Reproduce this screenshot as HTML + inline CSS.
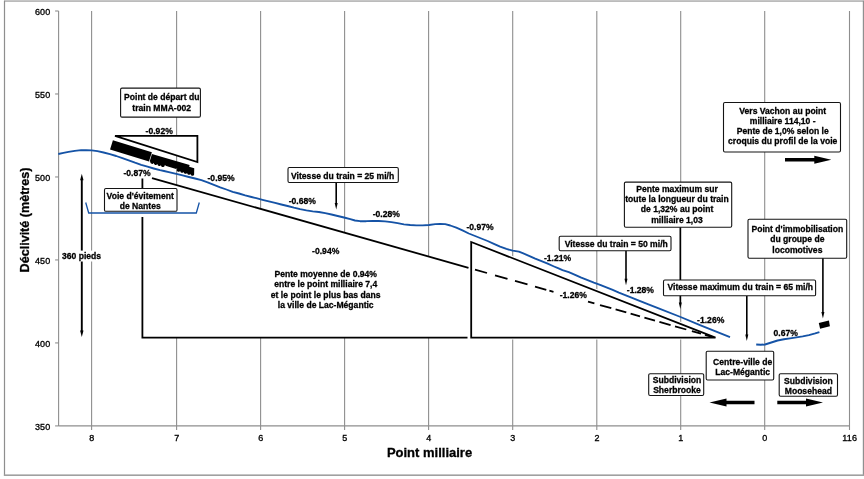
<!DOCTYPE html>
<html lang="fr"><head><meta charset="utf-8"><title>Déclivité - Point milliaire</title>
<style>html,body{margin:0;padding:0;background:#fff}body{width:864px;height:479px;overflow:hidden}svg{display:block}text{font-family:"Liberation Sans",sans-serif;font-weight:bold;fill:#000}.t{font-size:9.5px;text-anchor:middle;stroke:#000;stroke-width:0.3px}.k{font-size:9px;letter-spacing:0.15px;font-weight:normal;stroke:#000;stroke-width:0.32px;fill:#000}.ax{font-size:13px;text-anchor:middle;stroke:#000;stroke-width:0.3px}.b{fill:#fff;stroke:#141414;stroke-width:1.1}.g{stroke:#8e8e8e;stroke-width:1.1;fill:none}.n{stroke:#000;stroke-width:1.8;fill:none}.bl{stroke:#1553a6;fill:none}</style></head><body>
<svg width="864" height="479" viewBox="0 0 864 479">
<rect width="864" height="479" fill="#fff"/>
<rect x="4" y="0" width="860" height="1.2" fill="#c6c6c6"/><rect x="4" y="1.1" width="860" height="0.7" fill="#a2a2a2"/><rect x="3.9" y="0.8" width="1.2" height="475" fill="#8e8e8e"/><rect x="862.8" y="0.8" width="1.2" height="475" fill="#909090"/><rect x="3.9" y="474.4" width="860.1" height="1.6" fill="#a0a0a0"/>
<line class="g" x1="91.60" y1="11.0" x2="91.60" y2="429.9"/>
<line class="g" x1="176.60" y1="11.0" x2="176.60" y2="429.9"/>
<line class="g" x1="260.60" y1="11.0" x2="260.60" y2="429.9"/>
<line class="g" x1="344.60" y1="11.0" x2="344.60" y2="429.9"/>
<line class="g" x1="428.60" y1="11.0" x2="428.60" y2="429.9"/>
<line class="g" x1="512.70" y1="11.0" x2="512.70" y2="429.9"/>
<line class="g" x1="596.80" y1="11.0" x2="596.80" y2="429.9"/>
<line class="g" x1="680.70" y1="11.0" x2="680.70" y2="429.9"/>
<line class="g" x1="764.70" y1="11.0" x2="764.70" y2="429.9"/>
<line class="g" x1="849.50" y1="11.0" x2="849.50" y2="429.9"/>
<line class="g" x1="58.6" y1="11.0" x2="58.6" y2="425.9"/>
<line class="g" x1="58.6" y1="425.9" x2="849.50" y2="425.9"/>
<line class="g" x1="55.1" y1="11.00" x2="58.6" y2="11.00"/>
<line class="g" x1="55.1" y1="93.98" x2="58.6" y2="93.98"/>
<line class="g" x1="55.1" y1="176.96" x2="58.6" y2="176.96"/>
<line class="g" x1="55.1" y1="259.94" x2="58.6" y2="259.94"/>
<line class="g" x1="55.1" y1="342.92" x2="58.6" y2="342.92"/>
<line class="g" x1="55.1" y1="425.90" x2="58.6" y2="425.90"/>
<text class="k" x="50.4" y="14.70" text-anchor="end">600</text>
<text class="k" x="50.4" y="97.68" text-anchor="end">550</text>
<text class="k" x="50.4" y="180.66" text-anchor="end">500</text>
<text class="k" x="50.4" y="263.64" text-anchor="end">450</text>
<text class="k" x="50.4" y="346.62" text-anchor="end">400</text>
<text class="k" x="50.4" y="429.60" text-anchor="end">350</text>
<text class="k" x="91.80" y="441.3" text-anchor="middle">8</text>
<text class="k" x="176.80" y="441.3" text-anchor="middle">7</text>
<text class="k" x="260.80" y="441.3" text-anchor="middle">6</text>
<text class="k" x="344.80" y="441.3" text-anchor="middle">5</text>
<text class="k" x="428.80" y="441.3" text-anchor="middle">4</text>
<text class="k" x="512.90" y="441.3" text-anchor="middle">3</text>
<text class="k" x="597.00" y="441.3" text-anchor="middle">2</text>
<text class="k" x="680.90" y="441.3" text-anchor="middle">1</text>
<text class="k" x="764.90" y="441.3" text-anchor="middle">0</text>
<text class="k" x="849.70" y="441.3" text-anchor="middle">116</text>
<text class="ax" x="429.5" y="456.8">Point milliaire</text>
<text class="ax" transform="translate(28.7 220) rotate(-90) scale(0.968 1)">Déclivité (mètres)</text>
<polygon points="142.4,175.37 468.5,267.82 468.5,337.6 142.4,337.6" fill="#fff"/>
<path class="n" d="M152,178.09 L468.5,267.82"/>
<path class="n" d="M142.4,178.5 V188.7 M142.4,217 V337.6 H467.5"/>
<polygon points="471.2,242 715.5,337.6 471.2,337.6" fill="#fff" stroke="#fff" stroke-width="4"/>
<polygon class="n" points="471.2,242 715.5,337.6 471.2,337.6" stroke-linejoin="miter"/>
<path class="n" d="M475,269.60 L487,273.00 M495,275.27 L507.5,278.81 M515,280.94 L527.5,284.48 M535,286.61 L546.3,289.81 M549.4,290.69 L553.5,291.85 M588,301.64 L594.4,303.45 M600,305.04 L611.3,308.24 M615.6,309.46 L626.3,312.49 M630.6,313.71 L640,316.38 M644.4,317.62 L655,320.63 M659.4,321.88 L670.6,325.05 M675,326.30 L686.3,329.50 M691.9,331.09 L701,333.67 M705,334.81 L712,336.79"/>
<path class="bl" stroke-width="1.85" stroke-linejoin="round" d="M58.3,154.0 L63.5,152.9 L68.5,151.9 L74.8,150.8 L81.1,150.2 L86.1,150.2 L91.7,150.4 L97.4,151.2 L103.6,152.5 L109.9,154.2 L116.2,156.0 L122.4,158.2 L128.7,160.4 L135.0,162.7 L141.2,164.8 L147.5,166.7 L153.7,168.5 L160.0,170.2 L164.0,171.0 L168.8,172.2 L176.3,173.9 L182.6,175.4 L188.8,177.0 L195.1,178.5 L201.4,180.2 L207.6,182.3 L213.9,184.8 L220.2,187.3 L226.4,189.5 L232.7,191.8 L239.0,193.5 L245.2,195.4 L251.5,197.0 L256.3,198.2 L262.5,199.8 L268.8,201.4 L275.1,202.9 L281.3,204.5 L287.6,206.0 L293.9,207.7 L300.1,209.2 L306.4,210.4 L312.7,211.3 L318.9,212.0 L325.2,213.2 L331.5,214.5 L337.7,216.0 L344.0,217.5 L350.3,219.2 L355.0,220.5 L360.0,221.2 L366.3,221.2 L372.6,221.0 L378.8,221.0 L385.1,221.4 L391.4,222.2 L397.6,223.2 L403.9,224.4 L410.2,225.0 L416.4,225.4 L422.7,225.4 L429.0,225.0 L435.2,224.2 L440.2,223.8 L445.2,224.2 L450.3,225.5 L456.3,227.7 L462.5,230.4 L468.8,233.5 L475.1,236.0 L481.3,238.5 L487.6,241.0 L493.9,243.9 L500.1,246.7 L506.4,248.9 L512.7,250.7 L518.9,251.7 L522.7,253.2 L529.0,255.8 L535.2,258.6 L541.5,261.1 L547.7,263.7 L554.0,266.5 L558.0,268.2 L562.5,270.1 L568.8,272.2 L575.1,274.8 L581.3,277.6 L587.6,280.1 L593.9,282.6 L600.1,284.8 L606.4,287.3 L612.7,289.9 L618.9,292.6 L625.2,295.1 L631.5,297.6 L637.7,300.1 L644.0,302.6 L650.3,305.1 L658.0,308.2 L680.6,317.0 L700.0,325.1 L715.0,331.2 L730.0,337.2"/>
<path class="bl" stroke-width="1.9" stroke-linejoin="round" d="M756.2,344.5 L760.7,344.8 L765.0,344.5 L771.3,342.5 L777.6,340.5 L783.9,339.3 L790.1,338.4 L796.4,337.4 L802.7,336.4 L808.9,335.1 L815.2,333.4 L819.4,332.1"/>
<path class="bl" stroke-width="1.3" d="M85.7,202.5 L88.7,213 H196.3 L199.3,202.5"/>
<polygon points="115,135.8 197.4,135.8 197.4,162" fill="#fff" stroke="#000" stroke-width="1.8"/>
<g transform="translate(112.9 140.2) rotate(17.2)"><rect x="0" y="0" width="40.8" height="9.7" fill="#000"/></g>
<path transform="translate(152.2 154.1) rotate(16.3)" d="M-0.3,0 L39,0 L39,1.7 L44.3,1.7 L46,8.0 a1.80,1.6 0 0 1 -3.60,0 a1.80,1.6 0 0 1 -3.60,0 a1.80,1.6 0 0 1 -3.60,0 a1.80,1.6 0 0 1 -3.60,0 a1.80,1.6 0 0 1 -3.60,0 L28,6.8 L27.4,6.8 L27.1,7.5 L16,7.5 L15.7,6.8 L15.2,6.8 L15.2,7.9 a1.85,1.6 0 0 1 -3.70,0 a1.85,1.6 0 0 1 -3.70,0 a1.85,1.6 0 0 1 -3.70,0 a1.85,1.6 0 0 1 -3.70,0 L-0.3,7.9 Z" fill="#000"/>
<polygon points="818.8,323 828.9,320.5 829.9,326.3 820.1,328.8" fill="#000"/>
<line x1="81.8" y1="179.3" x2="81.8" y2="331.5" stroke="#000" stroke-width="1.9"/><polygon points="80.1,330.5 83.5,330.5 81.8,337" fill="#000"/><polygon points="80.1,180.3 83.5,180.3 81.8,173.8" fill="#000"/>
<line x1="336.2" y1="182.5" x2="336.2" y2="204.0" stroke="#000" stroke-width="1.6"/><polygon points="334.7,203.0 337.7,203.0 336.2,209.5" fill="#000"/>
<line x1="626" y1="250.5" x2="626" y2="279.7" stroke="#000" stroke-width="1.6"/><polygon points="624.5,278.7 627.5,278.7 626,285.2" fill="#000"/>
<line x1="680.3" y1="227" x2="680.3" y2="303.5" stroke="#000" stroke-width="1.6"/><polygon points="678.8,302.5 681.8,302.5 680.3,309" fill="#000"/>
<line x1="746.8" y1="296" x2="746.8" y2="335.5" stroke="#000" stroke-width="1.6"/><polygon points="745.3,334.5 748.3,334.5 746.8,341" fill="#000"/>
<line x1="822.9" y1="258" x2="822.9" y2="313.1" stroke="#000" stroke-width="1.6"/><polygon points="821.4,312.1 824.4,312.1 822.9,318.6" fill="#000"/>
<polygon fill="#000" points="785,158.10000000000002 814.3,158.10000000000002 814.3,155.8 831.3,159.8 814.3,163.8 814.3,161.5 785,161.5"/>
<polygon fill="#000" points="754.5,400.8 726.5,400.8 726.5,398.5 709.5,402.5 726.5,406.5 726.5,404.2 754.5,404.2"/>
<polygon fill="#000" points="777.3,400.8 806,400.8 806,398.5 823,402.5 806,406.5 806,404.2 777.3,404.2"/>
<rect class="b" x="120.6" y="88.1" width="79.80" height="29.00" rx="1.4"/><text class="t" transform="translate(161.70 100.30) scale(0.905 1)">Point de départ du</text><text class="t" transform="translate(161.70 110.60) scale(0.905 1)">train MMA-002</text>
<rect class="b" x="104.5" y="188.5" width="72.50" height="22.80" rx="1.4"/><text class="t" transform="translate(140.20 198.70) scale(0.905 1)">Voie d'évitement</text><text class="t" transform="translate(140.20 208.70) scale(0.905 1)">de Nantes</text>
<rect class="b" x="288" y="167.5" width="110.30" height="15.00" rx="1.4"/><text class="t" transform="translate(342.60 178.80) scale(0.905 1)">Vitesse du train = 25 mi/h</text>
<rect class="b" x="559.2" y="236.2" width="111.80" height="14.50" rx="1.4"/><text class="t" transform="translate(616.20 247.40) scale(0.905 1)">Vitesse du train = 50 mi/h</text>
<rect class="b" x="624.4" y="182.1" width="107.30" height="45.10" rx="1.4"/><text class="t" transform="translate(677.00 192.20) scale(0.905 1)">Pente maximum sur</text><text class="t" transform="translate(677.00 202.30) scale(0.905 1)">toute la longueur du train</text><text class="t" transform="translate(677.00 212.40) scale(0.905 1)">de 1,32% au point</text><text class="t" transform="translate(677.00 222.50) scale(0.905 1)">milliaire 1,03</text>
<rect class="b" x="663.5" y="280" width="152.10" height="15.80" rx="1.4"/><text class="t" transform="translate(740.30 290.30) scale(0.905 1)">Vitesse maximum du train = 65 mi/h</text>
<rect class="b" x="723.5" y="102.5" width="117.00" height="49.50" rx="1.4"/><text class="t" transform="translate(782.70 113.50) scale(0.905 1)">Vers Vachon au point</text><text class="t" transform="translate(782.70 123.67) scale(0.905 1)">milliaire 114,10 -</text><text class="t" transform="translate(782.70 133.84) scale(0.905 1)">Pente de 1,0% selon le</text><text class="t" transform="translate(782.70 144.01) scale(0.905 1)">croquis du profil de la voie</text>
<rect class="b" x="748" y="219.2" width="98.70" height="39.00" rx="1.4"/><text class="t" transform="translate(797.35 231.70) scale(0.905 1)">Point d'immobilisation</text><text class="t" transform="translate(797.35 242.10) scale(0.905 1)">du groupe de</text><text class="t" transform="translate(797.35 252.50) scale(0.905 1)">locomotives</text>
<rect class="b" x="706.2" y="351.2" width="67.50" height="28.80" rx="1.4"/><text class="t" transform="translate(742.70 364.50) scale(0.905 1)">Centre-ville de</text><text class="t" transform="translate(742.70 374.50) scale(0.905 1)">Lac-Mégantic</text>
<rect class="b" x="648.7" y="373.7" width="55.00" height="21.80" rx="1.4"/><text class="t" transform="translate(677.00 383.20) scale(0.905 1)">Subdivision</text><text class="t" transform="translate(677.00 393.00) scale(0.905 1)">Sherbrooke</text>
<rect class="b" x="779.2" y="373.7" width="58.30" height="22.50" rx="1.4"/><text class="t" transform="translate(808.35 383.70) scale(0.905 1)">Subdivision</text><text class="t" transform="translate(808.35 393.70) scale(0.905 1)">Moosehead</text>
<rect x="60.5" y="250.6" width="42" height="10.9" fill="#fff"/>
<text class="t" transform="translate(81.5 258.8) scale(0.905 1)">360 pieds</text>
<text class="t" transform="translate(159.2 133.6) scale(0.905 1)">-0.92%</text>
<text class="t" transform="translate(137 175.6) scale(0.905 1)">-0.87%</text>
<text class="t" transform="translate(221.1 180.7) scale(0.905 1)">-0.95%</text>
<text class="t" transform="translate(302.3 203.6) scale(0.905 1)">-0.68%</text>
<text class="t" transform="translate(386.3 217.4) scale(0.905 1)">-0.28%</text>
<text class="t" transform="translate(325.7 253.8) scale(0.905 1)">-0.94%</text>
<text class="t" transform="translate(480 230.2) scale(0.905 1)">-0.97%</text>
<text class="t" transform="translate(557.5 261.2) scale(0.905 1)">-1.21%</text>
<rect x="558" y="289" width="29" height="11" fill="#fff"/>
<text class="t" transform="translate(573.3 297.5) scale(0.905 1)">-1.26%</text>
<text class="t" transform="translate(640.4 293.4) scale(0.905 1)">-1.28%</text>
<text class="t" transform="translate(710.7 323) scale(0.905 1)">-1.26%</text>
<text class="t" transform="translate(785.7 335.7) scale(0.905 1)">0.67%</text>
<text class="t" transform="translate(325.7 276.9) scale(0.905 1)">Pente moyenne de 0.94%</text>
<text class="t" transform="translate(325.7 287.25) scale(0.905 1)">entre le point milliaire 7,4</text>
<text class="t" transform="translate(325.7 297.59999999999997) scale(0.905 1)">et le point le plus bas dans</text>
<text class="t" transform="translate(325.7 307.95) scale(0.905 1)">la ville de Lac-Mégantic</text>
</svg></body></html>
